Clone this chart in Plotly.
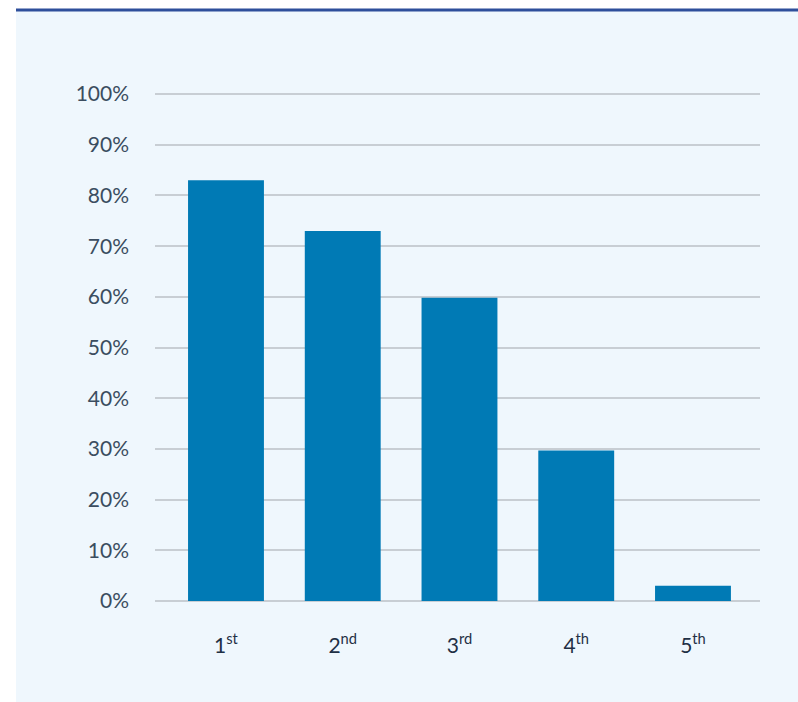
import plotly.graph_objects as go

# Share of respondents by rank
categories = ["1<sup>st</sup>", "2<sup>nd</sup>", "3<sup>rd</sup>", "4<sup>th</sup>", "5<sup>th</sup>"]
values = [83.0, 73.0, 59.8, 29.7, 3.0]
y_ticks = [0, 10, 20, 30, 40, 50, 60, 70, 80, 90, 100]
y_top = 101

W, H = 798, 702
L, R, B = 155, 38, 101
zero_px = H - B                    # pixel row of the 0% line
unit_px = 507 / 100                # pixels per percentage point
T = round(zero_px - unit_px * y_top)
pw, ph = W - L - R, H - T - B


def px_x(x):
    return (x - L) / pw


def px_y(y):
    return (zero_px - y) / ph


fig = go.Figure(
    go.Bar(
        x=list(range(len(categories))),
        y=values,
        width=0.65,
        marker=dict(color="#007ab5", line=dict(width=0)),
        hoverinfo="skip",
    )
)

fig.update_layout(
    width=W,
    height=H,
    margin=dict(l=L, r=R, t=T, b=B),
    paper_bgcolor="white",
    plot_bgcolor="rgba(0,0,0,0)",
    font=dict(family="Lato, 'Open Sans', sans-serif", size=21, color="#3b4d60"),
    showlegend=False,
    shapes=[
        # light panel behind the chart
        dict(type="rect", xref="paper", yref="paper", layer="below",
             x0=px_x(16), x1=px_x(W + 2), y0=px_y(H + 2), y1=px_y(11),
             fillcolor="#eff7fd", line=dict(width=0)),
        # dark rule along the top
        dict(type="line", xref="paper", yref="paper", layer="below",
             x0=px_x(16), x1=px_x(W + 2), y0=px_y(10), y1=px_y(10),
             line=dict(color="#2e4f9b", width=3)),
    ],
)

fig.update_xaxes(
    range=[-0.608, 4.574],
    tickmode="array",
    tickvals=list(range(len(categories))),
    ticktext=categories,
    showgrid=False,
    zeroline=False,
    showline=False,
    ticks="",
    ticklabelstandoff=30,
    tickfont=dict(size=21, color="#1f3045"),
    fixedrange=True,
)

fig.update_yaxes(
    range=[0, y_top],
    tickmode="array",
    tickvals=y_ticks,
    ticktext=[f"{v}%" for v in y_ticks],
    showgrid=True,
    gridcolor="#c8ced4",
    gridwidth=1.5,
    zeroline=True,
    zerolinecolor="#c8ced4",
    zerolinewidth=1.5,
    showline=False,
    ticks="",
    ticklabelstandoff=25,
    tickfont=dict(size=21, color="#3b4d60"),
    fixedrange=True,
)

fig.write_html("out.html", config={"displayModeBar": False})
